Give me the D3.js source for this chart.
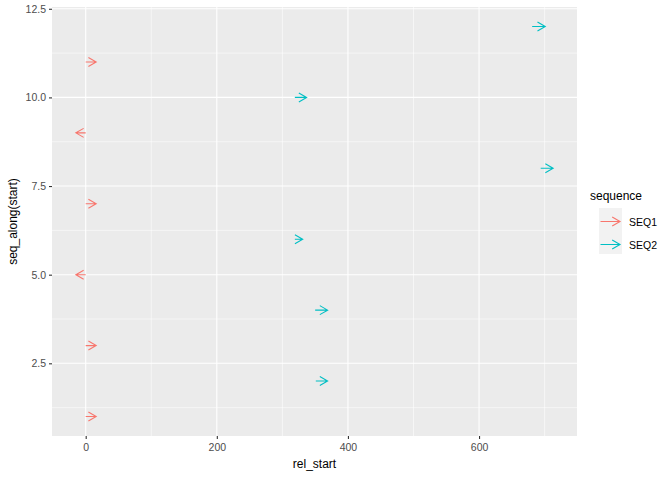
<!DOCTYPE html>
<html>
<head>
<meta charset="utf-8">
<script src="https://cdn.jsdelivr.net/npm/d3@7"></script>
<style>
  body { margin: 0; background: #fff; }
  text { font-family: "Liberation Sans", Arial, sans-serif; }
</style>
</head>
<body>
<svg id="chart" width="672" height="480"></svg>
<script>
// one row per segment, y is the row index
const seqNames = ["SEQ1", "SEQ2"];
const seqColors = ["#F8766D", "#00BFC4"];
const rowSeq = ["SEQ1", "SEQ2", "SEQ1", "SEQ2", "SEQ1", "SEQ2", "SEQ1", "SEQ2", "SEQ1", "SEQ2", "SEQ1", "SEQ2"];
const relStart = [0, 351, 0, 350, 0, 319, 0, 694, 0, 319, 0, 681];
const relEnd = [16, 369, 16, 369, -15, 331, 16, 713, -15, 337, 16, 701];
const xTicks = [0, 200, 400, 600];
const xMinor = [100, 300, 500, 700];
const yTicks = [2.5, 5.0, 7.5, 10.0, 12.5];
const yMinor = [1.25, 3.75, 6.25, 8.75, 11.25];

const rows = rowSeq.map((s, i) => ({ seq: s, y: i + 1, x: relStart[i], xend: relEnd[i] }));

const panel = { left: 52, right: 577, top: 7, bottom: 436 };
const svg = d3.select("#chart");

const allX = rows.flatMap(d => [d.x, d.xend]);
const xMin = d3.min(allX), xMax = d3.max(allX);
const xPad = (xMax - xMin) * 0.05;
const x = d3.scaleLinear().domain([xMin - xPad, xMax + xPad]).range([panel.left, panel.right]);
const yPad = (12 - 1) * 0.05;
const y = d3.scaleLinear().domain([1 - yPad, 12 + yPad]).range([panel.bottom, panel.top]);
const color = d3.scaleOrdinal().domain(seqNames).range(seqColors);

// panel background
svg.append("rect")
  .attr("x", panel.left).attr("y", panel.top)
  .attr("width", panel.right - panel.left).attr("height", panel.bottom - panel.top)
  .attr("fill", "#EBEBEB");

const grid = svg.append("g");
grid.selectAll(".xminor").data(xMinor.filter(v => x(v) <= panel.right)).enter().append("line")
  .attr("x1", d => x(d)).attr("x2", d => x(d))
  .attr("y1", panel.top).attr("y2", panel.bottom)
  .attr("stroke", "#fff").attr("stroke-width", 0.55);
grid.selectAll(".yminor").data(yMinor).enter().append("line")
  .attr("x1", panel.left).attr("x2", panel.right)
  .attr("y1", d => y(d)).attr("y2", d => y(d))
  .attr("stroke", "#fff").attr("stroke-width", 0.55);
grid.selectAll(".xmajor").data(xTicks).enter().append("line")
  .attr("x1", d => x(d)).attr("x2", d => x(d))
  .attr("y1", panel.top).attr("y2", panel.bottom)
  .attr("stroke", "#fff").attr("stroke-width", 1.1);
grid.selectAll(".ymajor").data(yTicks).enter().append("line")
  .attr("x1", panel.left).attr("x2", panel.right)
  .attr("y1", d => y(d)).attr("y2", d => y(d))
  .attr("stroke", "#fff").attr("stroke-width", 1.1);

// open arrowhead path at (x2,y2) pointing away from (x1,y1)
function arrowPath(x1, y1, x2, y2) {
  const len = 9, ang = Math.PI / 6;
  const a = Math.atan2(y2 - y1, x2 - x1);
  const p1 = [x2 - len * Math.cos(a - ang), y2 - len * Math.sin(a - ang)];
  const p2 = [x2 - len * Math.cos(a + ang), y2 - len * Math.sin(a + ang)];
  return `M${x1},${y1}L${x2},${y2}M${p1[0]},${p1[1]}L${x2},${y2}L${p2[0]},${p2[1]}`;
}

svg.append("g").selectAll("path").data(rows).enter().append("path")
  .attr("d", d => arrowPath(x(d.x), y(d.y), x(d.xend), y(d.y)))
  .attr("fill", "none")
  .attr("stroke", d => color(d.seq))
  .attr("stroke-width", 1.1);

// axes
const xAxis = d3.axisBottom(x).tickValues(xTicks).tickSize(3).tickPadding(5).tickFormat(d3.format("d"));
const gx = svg.append("g").attr("transform", `translate(0,${panel.bottom})`).call(xAxis);
const yAxis = d3.axisLeft(y).tickValues(yTicks).tickSize(3).tickPadding(3).tickFormat(d3.format(".1f"));
const gy = svg.append("g").attr("transform", `translate(${panel.left},0)`).call(yAxis);
[gx, gy].forEach(g => {
  g.select(".domain").remove();
  g.selectAll(".tick line").attr("stroke", "#333").attr("stroke-width", 1.1);
  g.selectAll(".tick text").attr("fill", "#4D4D4D").style("font-size", "10.5px");
});

svg.append("text")
  .attr("x", (panel.left + panel.right) / 2).attr("y", 468)
  .attr("text-anchor", "middle").style("font-size", "12px").attr("fill", "#000")
  .text("rel_start");
svg.append("text")
  .attr("transform", `translate(17,${(panel.top + panel.bottom) / 2}) rotate(-90)`)
  .attr("text-anchor", "middle").style("font-size", "12px").attr("fill", "#000")
  .text("seq_along(start)");

// legend
const legend = svg.append("g").attr("transform", "translate(599,208)");
legend.append("text").attr("x", -9).attr("y", -8.5).style("font-size", "12px").text("sequence");
const keys = legend.selectAll(".key").data(seqNames).enter().append("g")
  .attr("transform", (d, i) => `translate(0,${i * 23})`);
keys.append("rect").attr("width", 23).attr("height", 23).attr("fill", "#F2F2F2");
keys.append("path")
  .attr("d", () => arrowPath(1.5, 13.5, 21, 13.5))
  .attr("fill", "none").attr("stroke", d => color(d)).attr("stroke-width", 1.1);
keys.append("text").attr("x", 30).attr("y", 17.5).style("font-size", "10.5px").text(d => d);
</script>
</body>
</html>
